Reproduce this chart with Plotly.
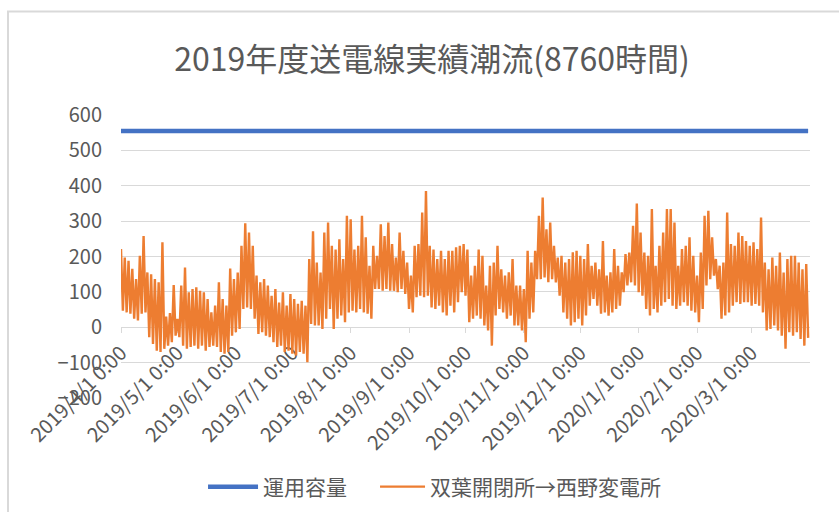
import plotly.graph_objects as go
import pandas as pd

# ---------------- data ----------------
title_text = "2019年度送電線実績潮流(8760時間)"
capacity_name = "運用容量"
flow_name = "双葉開閉所→西野変電所"

start_date = "2019-04-01"
capacity_mw = 555

# Flow: peak / trough pairs, one pair every 2 days from 2019-04-01
flow_high = [
    221, 197, 188, 165, 136, 202, 258, 155, 150, 136, 127, 240, 30, 40, 119, 24, 118, 169, 99, 108, 113, 103, 99, 80,
    42, 61, 127, 80, 61, 166, 136, 155, 230, 294, 268, 230, 146, 127, 136, 118, 89, 108, 70, 99, 61, 94, 80, 66, 75, 61,
    193, 271, 183, 155, 268, 296,
    230, 220, 249, 193, 315, 305, 220, 230, 315, 254, 174, 230, 202, 291, 258, 296, 235, 197, 268, 216, 183, 146, 230,
    235, 324, 385, 230, 220, 193, 216, 193, 216,
    216, 226, 230, 235, 220, 146, 174, 220, 202, 118, 174, 183, 230, 164, 146, 155, 193, 118, 118, 108, 216, 183, 216,
    315, 367, 277, 296, 230, 197, 202, 183, 193,
    212, 216, 202, 193, 235, 174, 183, 164, 244, 146, 155, 221, 174, 155, 207, 211, 287, 350, 268, 211, 202, 334, 174,
    230, 268, 334, 334, 296, 174, 221, 230,
    254, 202, 146, 211, 315, 329, 254, 193, 174, 183, 324, 235, 230, 268, 258, 244, 230, 240, 221, 310, 183, 164, 197,
    174, 211, 155, 193, 202, 202, 183, 164, 179,
]
flow_low = [
    47, 42, 38, 24, 19, 38, 42, -28, -47, -66, -70, -61, -52, -42, -24, -28, -52, -61, -56, -52, -61, -52, -66, -56,
    -52, -56, -70, -75, -70, -24, -14, -5, 52, 56, 52, 24, -19, -14, -24, -28, -42, -56, -52, -70, -66, -75, -80, -70,
    -75, -99, 9, 5, 5, -5, 24, 52,
    -5, 24, 33, 14, 42, 47, 42, 52, 42, 38, 24, 108, 108, 103, 108, 103, 103, 99, 108, 94, 52, 42, 85, 89, 85, 89, 56,
    52, 61, 42, 33, 61,
    42, 71, 99, 89, 14, 24, 33, 24, 5, -9, -52, 33, 52, 42, 24, 33, 5, 5, -9, -42, 24, 42, 136, 136, 141, 127, 136,
    127, 89, 42, 24, 5,
    14, 24, 5, 33, 61, 80, 61, 38, 42, 33, 42, 52, 61, 99, 118, 127, 118, 99, 89, 52, 33, 52, 42, 61, 71, 80, 61, 52,
    61, 71, 61,
    47, 42, 14, 52, 118, 136, 146, 108, 24, 33, 42, 61, 71, 66, 71, 71, 61, 66, 61, 42, -9, -5, 5, -9, -24, -61, -14,
    -24, -14, -33, -52, -30,
]

month_tick_dates = ["2019-04-01", "2019-05-01", "2019-06-01", "2019-07-01", "2019-08-01", "2019-09-01",
                    "2019-10-01", "2019-11-01", "2019-12-01", "2020-01-01", "2020-02-01", "2020-03-01"]
month_tick_labels = ["2019/4/1 0:00", "2019/5/1 0:00", "2019/6/1 0:00", "2019/7/1 0:00", "2019/8/1 0:00",
                     "2019/9/1 0:00", "2019/10/1 0:00", "2019/11/1 0:00", "2019/12/1 0:00", "2020/1/1 0:00",
                     "2020/2/1 0:00", "2020/3/1 0:00"]

y_tick_values = [-200, -100, 0, 100, 200, 300, 400, 500, 600]

# ---------------- build ----------------
flow_values = []
for h, l in zip(flow_high, flow_low):
    flow_values.extend([h, l])
dates = pd.date_range(start_date, periods=len(flow_values), freq="D")
capacity_values = [capacity_mw] * len(dates)

FONT = "Noto Sans CJK JP"
GREY = "#595959"
GRID = "#d9d9d9"

fig = go.Figure()
fig.add_trace(go.Scatter(x=dates, y=capacity_values, mode="lines", name=capacity_name,
                         line=dict(color="#4472c4", width=4.5), legend="legend", showlegend=True))
fig.add_trace(go.Scatter(x=dates, y=flow_values, mode="lines", name=flow_name,
                         line=dict(color="#ed7d31", width=2.4), legend="legend2", showlegend=True))

legend_font = dict(family=FONT, size=21, color=GREY)

fig.update_layout(
    width=839, height=512,
    showlegend=True,
    margin=dict(l=121, r=29, t=115, b=114, autoexpand=False),
    paper_bgcolor="white", plot_bgcolor="white",
    font=dict(family=FONT, color=GREY, size=20),
    title=dict(text=title_text, x=0.515, xref="container", xanchor="center",
               y=0.883, yref="container", yanchor="middle",
               font=dict(family=FONT, size=32, color=GREY)),
    xaxis=dict(type="date", range=["2019-04-01", "2020-04-01"],
               tickvals=month_tick_dates, ticktext=month_tick_labels, tickangle=-45,
               anchor="free", position=0.25, automargin=False,
               showgrid=False, zeroline=False,
               showline=True, linecolor=GRID, linewidth=1.3,
               ticks="outside", ticklen=5, tickcolor=GRID, tickwidth=1.3,
               layer="below traces",
               tickfont=dict(family=FONT, size=20, color=GREY)),
    yaxis=dict(range=[-200, 600], tickvals=y_tick_values, automargin=False,
               showgrid=True, gridcolor=GRID, gridwidth=1.3,
               zeroline=False, showline=False, ticks="",
               ticklabelstandoff=18,
               tickfont=dict(family=FONT, size=20, color=GREY)),
    legend=dict(orientation="h", xref="container", yref="container", visible=True,
                x=0.242, xanchor="left", y=0.0488, yanchor="middle",
                itemwidth=50, font=legend_font),
    legend2=dict(orientation="h", xref="container", yref="container", visible=True,
                 x=0.447, xanchor="left", y=0.0488, yanchor="middle",
                 itemwidth=45, font=legend_font),
    shapes=[dict(type="rect", xref="paper", yref="paper", x0=-0.164, x1=1.1, y0=-0.5, y1=1.3657,
                 line=dict(color=GRID, width=2), fillcolor="rgba(0,0,0,0)", layer="below")],
)

fig.write_html("out.html", config={"displayModeBar": False},
               post_script="document.body.style.margin='0';")
